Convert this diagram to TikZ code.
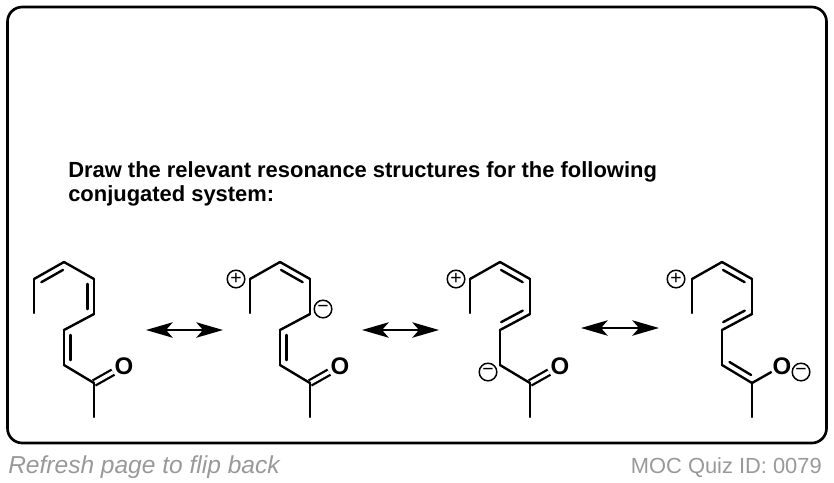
\documentclass[tikz,border=0pt]{standalone}
\usepackage{fontspec}
\usepackage{tikz}
\usetikzlibrary{arrows.meta,calc}
\setmainfont{Liberation Sans}
\definecolor{quizgrey}{HTML}{999999}

% inner line of a double bond, on the right of from -> to
\newcommand{\innerbond}[2]{\draw[bond] ($(#1)!.14!(#2)!4.8pt!-90:(#2)$) -- ($(#2)!.14!(#1)!4.8pt!90:(#1)$);}

\tikzset{
    bond/.style = {line width=1.8pt, line cap=round, line join=round},
    carbonyl/.style = {line width=1.7pt, double, double distance=2.6pt},
    oxygen/.style = {font=\bfseries\fontsize{18pt}{18pt}\selectfont, inner sep=1pt},
    charge/.style = {circle, draw, line width=1.1pt, inner sep=0pt, minimum size=13.2pt,
        font=\fontsize{14.5pt}{14.5pt}\selectfont},
    reso/.style = {line width=1.8pt,
        {Stealth[length=20pt,width=11.5pt,inset=5pt]}-{Stealth[length=20pt,width=11.5pt,inset=5pt]}},
    heading/.style = {anchor=base west, align=left, inner sep=0pt, font=\bfseries\fontsize{16.45pt}{16.45pt}\selectfont},
    footer/.style = {text=quizgrey, inner sep=0pt}
}

\begin{document}
\begin{tikzpicture}[x=0.75pt,y=-0.75pt]
    \useasboundingbox (0,0) rectangle (834,482);
    \draw[line width=2pt, rounded corners=11pt] (7.5,7) rectangle (826.5,443);

    \node[heading] (line1) at (68,177) {Draw the relevant resonance structures for the following};
    \node[heading] (line2) at (68,201) {conjugated system:};
    \node[footer, anchor=base west, font=\itshape\fontsize{18.4pt}{18.4pt}\selectfont] (flip) at (8,473) {Refresh page to flip back};
    \node[footer, anchor=base east, font=\fontsize{16.4pt}{16.4pt}\selectfont] (quiz) at (822,473) {MOC Quiz ID: 0079};

    \foreach \m/\dx in {a/0, b/216, c/436, d/658} {
        \coordinate (\m1) at (34+\dx,313);
        \coordinate (\m2) at (34+\dx,279);
        \coordinate (\m3) at (64+\dx,262);
        \coordinate (\m4) at (94+\dx,279);
        \coordinate (\m5) at (94+\dx,314);
        \coordinate (\m6) at (64+\dx,330);
        \coordinate (\m7) at (64+\dx,365);
        \coordinate (\m8) at (94+\dx,383);
        \coordinate (\m9) at (94+\dx,417);
        \node[oxygen] (\m O) at (124+\dx,366) {O};
    }

    \foreach \m in {a, b, c}
        \draw[carbonyl] (\m8) -- (\m O);

    \foreach \from/\to in {a1/a2, a2/a3, a3/a4, a4/a5, a5/a6, a6/a7, a7/a8, a8/a9,
            b1/b2, b2/b3, b3/b4, b4/b5, b5/b6, b6/b7, b7/b8, b8/b9,
            c1/c2, c2/c3, c3/c4, c4/c5, c5/c6, c6/c7, c7/c8, c8/c9,
            d1/d2, d2/d3, d3/d4, d4/d5, d5/d6, d6/d7, d7/d8, d8/d9, d8/dO}
        \draw[bond] (\from) -- (\to);

    \innerbond{a2}{a3} \innerbond{a4}{a5} \innerbond{a7}{a6}
    \innerbond{b3}{b4} \innerbond{b7}{b6}
    \innerbond{c3}{c4} \innerbond{c5}{c6}
    \innerbond{d3}{d4} \innerbond{d5}{d6} \innerbond{d8}{d7}

    \node[charge] (bplus) at (236,279) {+};
    \node[charge] (bminus) at (323,309) {−};
    \node[charge] (cplus) at (456,279) {+};
    \node[charge] (cminus) at (488,372) {−};
    \node[charge] (dplus) at (676,279) {+};
    \node[charge] (dminus) at (801,372) {−};

    \coordinate (r1a) at (146,330); \coordinate (r1b) at (223,330);
    \coordinate (r2a) at (362,330); \coordinate (r2b) at (439,330);
    \coordinate (r3a) at (581,328); \coordinate (r3b) at (659,328);
    \foreach \from/\to in {r1a/r1b, r2a/r2b, r3a/r3b}
        \draw[reso] (\from) -- (\to);
\end{tikzpicture}
\end{document}
